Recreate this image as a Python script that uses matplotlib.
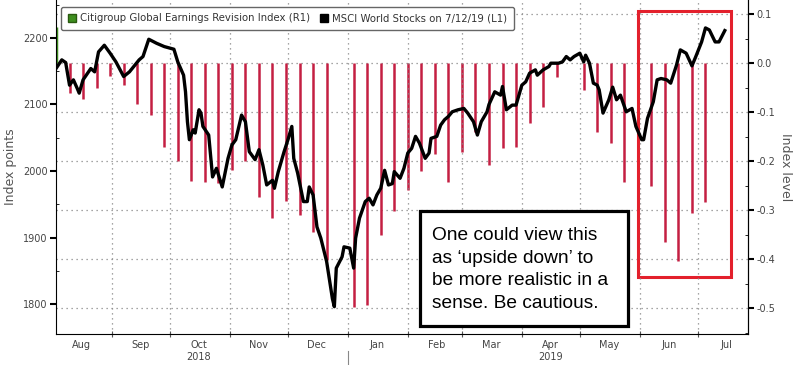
import matplotlib
matplotlib.use("Agg")
import matplotlib.pyplot as plt
import matplotlib.dates as mdates
import matplotlib.ticker as mticker
from matplotlib.patches import Rectangle, Patch
import numpy as np
import pandas as pd

plt.rcParams['axes.unicode_minus'] = False

# MSCI World Stocks (left axis), days counted from 3 Aug 2018
start = pd.Timestamp('2018-08-03')
stock_days = [0, 3, 5, 7, 9, 11, 12, 14, 18, 20, 22, 25, 28, 31, 35, 38, 43, 45, 48, 52,
              56, 61, 63, 66, 67, 68, 69, 71, 72, 74, 75, 76, 79, 81, 83, 86, 89, 91, 93, 96,
              98, 100, 103, 105, 107, 109, 112, 113, 115, 118, 120, 122, 123, 125, 128, 130,
              131, 133, 135, 137, 140, 143, 144, 145, 148, 149, 152, 154, 155, 157, 160, 162,
              164, 166, 168, 170, 172, 174, 175, 178, 180, 182, 184, 186, 188, 191, 193, 194,
              197, 199, 201, 203, 205, 208, 211, 213, 216, 218, 220, 223, 224, 227, 230, 231,
              233, 236, 238, 241, 243, 245, 248, 249, 252, 255, 256, 260, 262, 264, 266, 268,
              271, 273, 274, 276, 278, 280, 281, 283, 286, 288, 290, 292, 295, 298, 300, 303,
              304, 306, 309, 311, 313, 316, 318, 321, 323, 326, 329, 331, 334, 336, 338, 341,
              343, 346]
stock_values = [2154, 2167, 2163, 2129, 2137, 2124, 2117, 2137, 2154, 2149, 2179, 2189, 2177,
                2164, 2142, 2149, 2167, 2172, 2198, 2192, 2187, 2183, 2164, 2144, 2119, 2074,
                2047, 2062, 2057, 2092, 2087, 2067, 2054, 1991, 2004, 1976, 2019, 2039, 2047,
                2084, 2074, 2029, 2017, 2032, 2009, 1979, 1986, 1974, 1999, 2029, 2047, 2067,
                2019, 1997, 1954, 1954, 1976, 1964, 1916, 1899, 1864, 1808, 1796, 1854, 1871,
                1886, 1884, 1854, 1899, 1929, 1954, 1959, 1949, 1964, 1974, 2001, 1979, 1981,
                1999, 1989, 2004, 2027, 2034, 2052, 2042, 2019, 2027, 2049, 2052, 2069, 2077,
                2082, 2089, 2092, 2094, 2087, 2074, 2054, 2074, 2089, 2100, 2119, 2114, 2127,
                2092, 2099, 2099, 2129, 2134, 2147, 2152, 2144, 2152, 2157, 2162, 2162, 2164,
                2172, 2167, 2172, 2177, 2164, 2174, 2162, 2132, 2129, 2122, 2087, 2107, 2126,
                2107, 2114, 2089, 2094, 2067, 2047, 2047, 2079, 2104, 2137, 2139, 2137, 2132,
                2159, 2182, 2177, 2158, 2172, 2194, 2215, 2212, 2194, 2194, 2211]

# Citigroup Global Earnings Revision Index (right axis), weekly
rev_dates = pd.date_range('2018-08-10', periods=48, freq='7D')
rev_values = [-0.062, -0.073, -0.052, -0.026, -0.045, -0.084, -0.106, -0.171, -0.200, -0.241,
              -0.242, -0.245, -0.218, -0.201, -0.273, -0.316, -0.282, -0.310, -0.344, -0.402,
              np.nan, -0.497, -0.494, -0.351, -0.303, -0.259, -0.220, -0.186, -0.242, -0.181,
              -0.140, -0.208, -0.174, -0.171, -0.123, -0.089, -0.028, np.nan, -0.055, -0.140,
              -0.164, -0.243, -0.317, -0.251, -0.365, -0.405, -0.307, -0.283]
first_rev_date = pd.Timestamp('2018-08-03')
first_rev_value = 0.073

year_labels = {'2018': '2018-10-16', '2019': '2019-04-16'}

stock_dates = start + pd.to_timedelta(stock_days, unit='D')
rev_values = np.array(rev_values)
mask = ~np.isnan(rev_values)

fig = plt.figure(figsize=(8, 3.65), dpi=100)
ax = fig.add_axes([0.07, 0.085, 0.865, 0.915])
ax2 = ax.twinx()
ax.set_zorder(ax2.get_zorder() + 1)
ax.patch.set_visible(False)

tick_color = '#444444'

# bars (right axis)
ax2.vlines(rev_dates[mask], 0, rev_values[mask], color='#c41f42', lw=1.8)
ax2.vlines([first_rev_date], 0, [first_rev_value], color='#3f8f1f', lw=2.5)
ax2.set_ylim(-0.553, 0.1286)
ax2.yaxis.set_major_locator(mticker.MultipleLocator(0.1))
ax2.yaxis.set_minor_locator(mticker.MultipleLocator(0.05))
ax2.yaxis.set_major_formatter(mticker.FormatStrFormatter('%.1f'))
ax2.grid(axis='y', which='major', linestyle=(0, (1, 3)), color='#888888', lw=0.9)
ax2.set_ylabel('Index level', rotation=270, labelpad=12, fontsize=9, color='#555555')

# red highlight box
x0 = mdates.date2num(pd.Timestamp('2019-05-31'))
x1 = mdates.date2num(pd.Timestamp('2019-07-18'))
ax2.add_patch(Rectangle((x0, -0.436), x1 - x0, 0.543, fill=False,
                        ec='#e3202c', lw=2.2, zorder=5))

# line (left axis)
ax.plot(stock_dates, stock_values, color='black', lw=2.4, solid_joinstyle='round')
ax.set_ylim(1755, 2257)
ax.yaxis.set_major_locator(mticker.MultipleLocator(100))
ax.yaxis.set_minor_locator(mticker.MultipleLocator(50))
ax.set_ylabel('Index points', fontsize=9, color='#555555', labelpad=4)

ax.set_xlim(pd.Timestamp('2018-08-03'), pd.Timestamp('2019-07-27'))
ax.xaxis.set_major_locator(mdates.MonthLocator())
ax.xaxis.set_major_formatter(mticker.NullFormatter())
ax.xaxis.set_minor_locator(mdates.MonthLocator(bymonthday=16))
ax.xaxis.set_minor_formatter(mdates.DateFormatter('%b'))
ax.grid(axis='x', which='major', linestyle=(0, (1, 3)), color='#888888', lw=0.9)

for a in (ax, ax2):
    a.spines['top'].set_visible(False)
    a.tick_params(axis='both', which='both', labelsize=7, labelcolor=tick_color)
ax.tick_params(axis='x', which='minor', length=0, pad=4)
ax.tick_params(axis='x', which='major', length=4, direction='inout', color='#555555')
ax.tick_params(axis='y', which='major', length=4, width=1.5, direction='out', pad=2)
ax.tick_params(axis='y', which='minor', length=2, direction='in')
ax2.tick_params(axis='y', which='major', length=4, width=1.5, direction='out', pad=2)
ax2.tick_params(axis='y', which='minor', length=2, direction='in')
ax2.spines['left'].set_visible(False)
ax2.spines['bottom'].set_visible(False)

trans = ax.get_xaxis_transform()
for yr, d in year_labels.items():
    ax.text(pd.Timestamp(d), -0.068, yr, transform=trans, ha='center', va='center',
            fontsize=7, color=tick_color)
ax.plot([pd.Timestamp('2019-01-01')] * 2, [-0.05, -0.09], transform=trans,
        color='#888888', lw=0.8, clip_on=False)

# legend
handles = [Patch(facecolor='#3f8f1f', edgecolor='#2a5a10'),
           Patch(facecolor='black', edgecolor='black')]
leg = ax.legend(handles, ['Citigroup Global Earnings Revision Index (R1)',
                          'MSCI World Stocks on 7/12/19 (L1)'],
                loc='upper left', bbox_to_anchor=(0.0, 0.995), ncol=2, fontsize=7.3,
                handlelength=0.8, handleheight=0.8, handletextpad=0.4, columnspacing=1.0,
                borderpad=0.65, fancybox=True, framealpha=1, edgecolor='#666666')
for t in leg.get_texts():
    t.set_color('#333333')

# annotation box
fig.patches.append(Rectangle((0.525, 0.107), 0.26, 0.315, transform=fig.transFigure,
                             fill=True, fc='white', ec='black', lw=2.3, zorder=10))
fig.text(0.54, 0.262, 'One could view this\nas \u2018upside down\u2019 to\nbe more realistic in a\nsense. Be cautious.',
         fontsize=13.8, family='Liberation Sans', ha='left', va='center',
         linespacing=1.42, zorder=11)

fig.savefig('out.png', dpi=100)
